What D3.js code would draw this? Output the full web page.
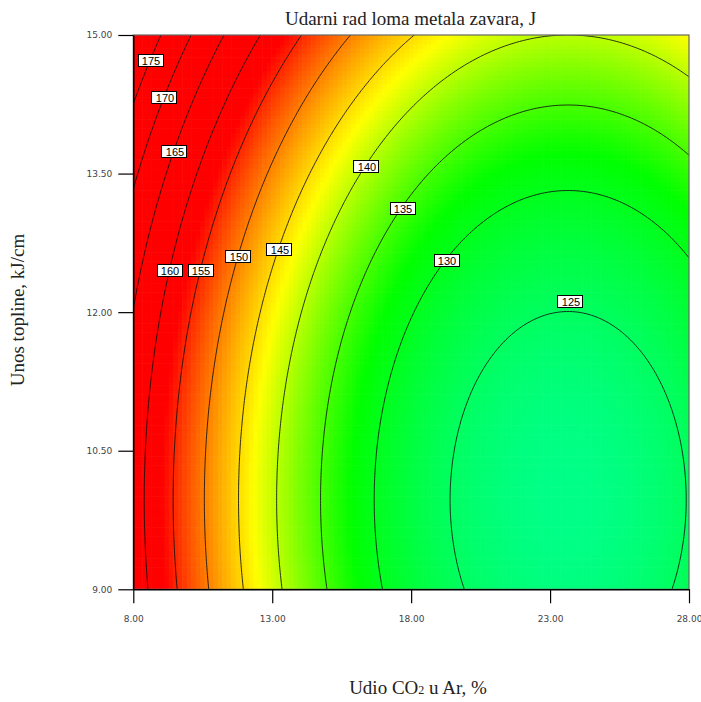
<!DOCTYPE html>
<html>
<head>
<meta charset="utf-8">
<script src="https://cdn.jsdelivr.net/npm/d3@7"></script>
<style>
  html, body { margin: 0; padding: 0; background: #fff; }
  svg { display: block; }
</style>
</head>
<body>
<svg id="chart" width="701" height="702"></svg>
<script>
// ---------------- data ----------------
const chartTitle = "Udarni rad loma metala zavara, J";
const xLabel = "Udio CO";
const yLabel = "Unos topline, kJ/cm";
const xDomain = [8, 28];
const yDomain = [9, 15];
const xTicks = [8, 13, 18, 23, 28];
const yTicks = [9, 10.5, 12, 13.5, 15];
// quadratic response model: Y = b0 + b1*A + b2*B + b11*A^2 + b22*B^2 + b12*A*B
const modelTerms = ["intercept", "A", "B", "A2", "B2", "AB"];
const modelCoefs = [283.70, -7.710, -14.137, 0.163, 0.709, 0.0];
const contourLevels = [125, 130, 135, 140, 145, 150, 155, 160, 165, 170, 175];
// label anchors (data units) per contour level
const labelLevels = [175, 170, 165, 160, 155, 150, 145, 140, 135, 130, 125];
const labelX = [8.49, 8.96, 9.32, 9.21, 10.33, 11.69, 13.10, 16.19, 17.45, 18.96, 23.71];
const labelY = [14.73, 14.33, 13.74, 12.46, 12.46, 12.61, 12.68, 13.58, 13.13, 12.56, 12.12];
// colour ramp (value -> hue)
const colorValues = [122, 132, 143, 157];
const colorHues = [152, 120, 60, 0];

// ---------------- layout ----------------
const svg = d3.select("#chart");
const plot = { left: 133.3, right: 689, top: 35, bottom: 589.3 };
const x = d3.scaleLinear().domain(xDomain).range([plot.left, plot.right]);
const y = d3.scaleLinear().domain(yDomain).range([plot.bottom, plot.top]);

function model(a, b) {
  const c = modelCoefs;
  return c[0] + c[1]*a + c[2]*b + c[3]*a*a + c[4]*b*b + c[5]*a*b;
}
const hue = d3.scaleLinear().domain(colorValues).range(colorHues).clamp(true);
const color = v => d3.hsl(hue(v), 1, 0.5).toString();

svg.append("defs").append("clipPath").attr("id", "plotClip")
  .append("rect")
  .attr("x", plot.left).attr("y", plot.top)
  .attr("width", plot.right - plot.left).attr("height", plot.bottom - plot.top);

// ---------------- colour raster ----------------
const nCx = 125, nCy = 125;
const cells = [];
for (let j = 0; j < nCy; j++) {
  for (let i = 0; i < nCx; i++) {
    const a0 = xDomain[0] + (xDomain[1] - xDomain[0]) * i / nCx;
    const a1 = xDomain[0] + (xDomain[1] - xDomain[0]) * (i + 1) / nCx;
    const b0 = yDomain[0] + (yDomain[1] - yDomain[0]) * j / nCy;
    const b1 = yDomain[0] + (yDomain[1] - yDomain[0]) * (j + 1) / nCy;
    cells.push({ a0, a1, b0, b1, v: model((a0 + a1) / 2, (b0 + b1) / 2) });
  }
}
svg.append("g").attr("clip-path", "url(#plotClip)")
  .selectAll("rect").data(cells).join("rect")
  .attr("x", d => x(d.a0))
  .attr("y", d => y(d.b1))
  .attr("width", d => x(d.a1) - x(d.a0) + 0.6)
  .attr("height", d => y(d.b0) - y(d.b1) + 0.6)
  .attr("fill", d => color(d.v));

// ---------------- contours ----------------
const N = 200, pad = 2;
const stepA = (xDomain[1] - xDomain[0]) / N;
const stepB = (yDomain[1] - yDomain[0]) / N;
const gnx = N + 1 + 2 * pad, gny = N + 1 + 2 * pad;
const grid = new Array(gnx * gny);
for (let j = 0; j < gny; j++) {
  const b = yDomain[1] - (j - pad) * stepB;
  for (let i = 0; i < gnx; i++) {
    const a = xDomain[0] + (i - pad) * stepA;
    grid[j * gnx + i] = model(a, b);
  }
}
const contours = d3.contours().size([gnx, gny]).thresholds(contourLevels)(grid);
const g2a = c => xDomain[0] + (c - 0.5 - pad) * stepA;
const g2b = c => yDomain[1] - (c - 0.5 - pad) * stepB;
const proj = d3.geoTransform({
  point: function(px, py) { this.stream.point(x(g2a(px)), y(g2b(py))); }
});
const path = d3.geoPath(proj);
svg.append("g").attr("clip-path", "url(#plotClip)")
  .selectAll("path").data(contours).join("path")
  .attr("d", path)
  .attr("fill", "none")
  .attr("stroke", "#111")
  .attr("stroke-opacity", 0.85)
  .attr("stroke-width", 1);

// ---------------- contour labels ----------------
const labelG = svg.append("g");
labelLevels.forEach((lev, k) => {
  const cont = contours.find(c => c.value === lev);
  let bx = labelX[k], by = labelY[k];
  if (cont) {
    let best = null, bestD = Infinity;
    cont.coordinates.forEach(poly => poly.forEach(ring => ring.forEach(p => {
      const a = g2a(p[0]), b = g2b(p[1]);
      if (a < xDomain[0] || a > xDomain[1] || b < yDomain[0] || b > yDomain[1]) return;
      if (Math.abs(a - labelX[k]) > 2) return;
      const d = Math.abs(b - labelY[k]) * 10 + Math.abs(a - labelX[k]) * 0.01;
      if (d < bestD) { bestD = d; best = a; }
    })));
    if (best !== null) bx = best;
  }
  const cx = x(bx), cy = y(by);
  const w = 25, h = 12;
  labelG.append("rect")
    .attr("x", Math.round(cx - w / 2) + 0.5).attr("y", Math.round(cy - h / 2) + 0.5)
    .attr("width", w).attr("height", h)
    .attr("fill", "#fff").attr("stroke", "#000").attr("stroke-width", 1);
  labelG.append("text")
    .attr("x", Math.round(cx) + 1).attr("y", Math.round(cy) + 4.5)
    .attr("text-anchor", "middle")
    .attr("font-family", "Liberation Sans, Arial, sans-serif")
    .attr("font-size", 11)
    .attr("fill", "#000")
    .text(lev);
});

// ---------------- frame & axes ----------------
svg.append("rect")
  .attr("x", plot.left).attr("y", plot.top)
  .attr("width", plot.right - plot.left).attr("height", plot.bottom - plot.top)
  .attr("fill", "none").attr("stroke", "#666").attr("stroke-width", 1.2);

const fmt = d3.format(".2f");
const yAxis = svg.append("g").attr("transform", `translate(${plot.left},0)`)
  .call(d3.axisLeft(y).tickValues(yTicks).tickFormat(fmt).tickSize(15).tickSizeOuter(0).tickPadding(6));
const xAxis = svg.append("g").attr("transform", `translate(0,${plot.bottom})`)
  .call(d3.axisBottom(x).tickValues(xTicks).tickFormat(fmt).tickSize(14).tickSizeOuter(0).tickPadding(12));
[yAxis, xAxis].forEach(ax => {
  ax.select(".domain").attr("stroke", "#000").attr("stroke-width", 1.4);
  ax.selectAll(".tick line").attr("stroke", "#000").attr("stroke-width", 1.2);
  ax.selectAll(".tick text")
    .attr("font-family", "DejaVu Sans, sans-serif")
    .attr("font-size", 9).attr("fill", "#444");
});

// ---------------- titles ----------------
svg.append("text")
  .attr("x", 410.5).attr("y", 25)
  .attr("text-anchor", "middle")
  .attr("font-family", "Liberation Serif, Times New Roman, serif")
  .attr("font-size", 19).attr("fill", "#222")
  .text(chartTitle);

const xl = svg.append("text")
  .attr("x", 418).attr("y", 694)
  .attr("text-anchor", "middle")
  .attr("font-family", "Liberation Serif, Times New Roman, serif")
  .attr("font-size", 19).attr("fill", "#222");
xl.append("tspan").text(xLabel);
xl.append("tspan").attr("font-size", 12).text("2");
xl.append("tspan").text(" u Ar, %");

svg.append("text")
  .attr("transform", "translate(24,310) rotate(-90)")
  .attr("text-anchor", "middle")
  .attr("font-family", "Liberation Serif, Times New Roman, serif")
  .attr("font-size", 19).attr("fill", "#222")
  .text(yLabel);
</script>
</body>
</html>
